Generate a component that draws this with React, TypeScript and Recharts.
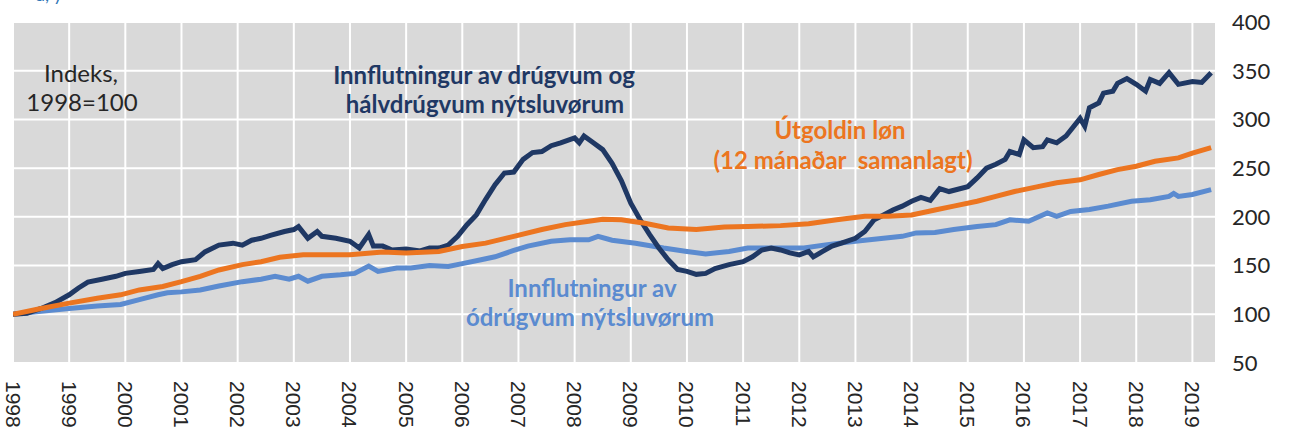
import React from "react";
import { LineChart, Line, XAxis, YAxis, CartesianGrid } from "recharts";

// Monthly dates ("YYYY-MM") and index values (1998 = 100)
const durableDates = [
  "1998-01","1998-04","1998-07","1998-10","1999-01","1999-03","1999-05","1999-08","1999-11",
  "2000-01","2000-04","2000-07","2000-08","2000-09","2000-11","2001-01","2001-04","2001-06","2001-09","2001-12",
  "2002-02","2002-04","2002-06","2002-08","2002-11","2003-01","2003-02","2003-04","2003-06","2003-07","2003-10",
  "2004-01","2004-03","2004-05","2004-06","2004-08","2004-10","2005-01","2005-04","2005-06","2005-08","2005-10","2005-12",
  "2006-02","2006-04","2006-06","2006-08","2006-10","2006-12","2007-02","2007-04","2007-06","2007-08","2007-10",
  "2008-01","2008-02","2008-03","2008-05","2008-07","2008-09","2008-11","2009-01","2009-03","2009-05","2009-07","2009-09","2009-11",
  "2010-01","2010-03","2010-05","2010-07","2010-10","2011-01","2011-03","2011-05","2011-07","2011-09","2011-11",
  "2012-01","2012-03","2012-04","2012-06","2012-08","2012-10","2013-01","2013-03","2013-05","2013-07","2013-09","2013-11",
  "2014-01","2014-03","2014-05","2014-07","2014-09","2015-01","2015-03","2015-05","2015-07","2015-09","2015-10","2015-12",
  "2016-01","2016-03","2016-05","2016-06","2016-08","2016-10","2017-01","2017-02","2017-03","2017-05","2017-06","2017-08","2017-09","2017-11",
  "2018-01","2018-03","2018-04","2018-06","2018-08","2018-10","2019-01","2019-03","2019-05",
];
const durableValues = [
  100,101,106,112,120,127,133,136,139,
  142,144,146,152,147,151,154,156,164,171,173,
  171,176,178,181,185,187,190,178,185,180,178,
  175,168,182,170,170,166,167,165,168,168,171,180,
  192,202,218,233,245,246,259,266,267,273,276,
  281,276,283,276,269,255,237,214,197,182,168,156,146,
  144,141,142,147,151,154,159,166,168,166,163,
  161,164.5,159,164.5,170,173,178,185,197,202,207,211,
  216,220,217,229,226,231,240,250,254,259,267,264,
  279,271,272,279,276,283,301,293,312,317,327,329,337,342,
  336,329,341,337,348,336,339,338,348,
];

const wagesDates = [
  "1998-01","1998-07","1999-01","1999-07","1999-12","2000-04","2000-09","2001-01","2001-05","2001-09",
  "2002-02","2002-06","2002-10","2003-03","2004-01","2004-08","2005-01","2005-08","2006-01","2006-06","2006-12",
  "2007-06","2007-11","2008-04","2008-07","2008-11","2009-04","2009-09","2010-03","2010-09","2011-02","2011-09",
  "2012-03","2012-09","2013-03","2013-08","2014-01","2014-06","2014-10","2015-03","2015-07","2015-11",
  "2016-04","2016-08","2017-01","2017-05","2017-09","2018-01","2018-05","2018-10","2019-01","2019-05",
];
const wagesValues = [
  100,106,111.5,116.5,120,125,128.5,133.5,139,145.5,
  151,154,158.5,161,161,164,163,164.5,169.5,173,180,
  187,192,195.5,197.5,197,193.5,188.5,187,189.5,190,191,
  193,197,200.5,200.5,202,207,211,216,221,226,
  231,235,238,243.5,248.5,252,257,260.5,265.5,271,
];

const nondurableDates = [
  "1998-01","1998-07","1999-01","1999-07","1999-12","2000-04","2000-08","2000-10","2001-01","2001-05","2001-09",
  "2002-02","2002-06","2002-09","2002-12","2003-02","2003-04","2003-07","2003-11","2004-02","2004-05","2004-07","2004-11",
  "2005-02","2005-06","2005-10","2006-01","2006-05","2006-08","2006-12","2007-03","2007-08","2007-12","2008-04","2008-06","2008-09",
  "2009-02","2009-08","2010-01","2010-05","2010-10","2011-02","2011-08","2012-02","2012-07","2013-01","2013-07","2013-11",
  "2014-02","2014-06","2014-10","2015-03","2015-07","2015-10","2016-02","2016-06","2016-08","2016-11",
  "2017-03","2017-07","2017-12","2018-04","2018-08","2018-09","2018-10","2019-01","2019-05",
];
const nondurableValues = [
  100,103,106,108.5,110,115,120,122,123,125,129,
  133.5,136,139,136,139,134,139,140.5,142,149.5,144,147.5,
  147.5,150,149,152,156,159,165.5,170,175,176.5,176.5,180,176,
  173,168,164.5,162,164.5,168,168,168,171.5,175,178,180,
  183.5,184,187,190,192,197,195.5,204,200.5,205.5,
  207.5,211,216,217.5,221,224,221,223,228,
];

const yearTicks = [1998,1999,2000,2001,2002,2003,2004,2005,2006,2007,2008,2009,2010,2011,2012,2013,2014,2015,2016,2017,2018,2019];
const valueTicks = [50,100,150,200,250,300,350,400];

const toYear = (s: string) => {
  const [y, m] = s.split("-").map(Number);
  return y + (m - 1) / 12;
};
const build = (dates: string[], values: number[]) =>
  dates.map((d, i) => ({ t: toYear(d), v: values[i] }));

const durable = build(durableDates, durableValues);
const wages = build(wagesDates, wagesValues);
const nondurable = build(nondurableDates, nondurableValues);

const DARK = "#1f3864";
const ORANGE = "#ec7520";
const LIGHT = "#5b8bd0";

const RotTick = (props: any) => {
  const { x, y, payload } = props;
  return (
    <text
      x={x}
      y={y}
      transform={`rotate(90 ${x} ${y})`}
      textAnchor="start"
      dominantBaseline="central"
      fontSize={21}
      fontFamily="'Liberation Sans', Arial, sans-serif"
      fill="#262626"
    >
      {payload.value}
    </text>
  );
};

const annFont = "Lato, 'Open Sans', sans-serif";

export default function App() {
  return (
    <div style={{ position: "absolute", left: 0, top: 0, width: 1289, height: 430, background: "#fff" }}>
      <LineChart width={1289} height={430} margin={{ top: 22, right: 13, bottom: 7, left: 13 }}>
        <CartesianGrid fill="#d9d9d9" fillOpacity={1} stroke="#ffffff" strokeWidth={2} />
        <XAxis
          dataKey="t"
          type="number"
          domain={[1998, 2019.42]}
          ticks={yearTicks}
          interval={0}
          allowDataOverflow
          height={60}
          axisLine={false}
          tickLine={false}
          tickSize={0}
          tickMargin={18}
          tick={<RotTick />}
        />
        <YAxis
          orientation="right"
          domain={[50, 400]}
          ticks={valueTicks}
          interval={0}
          width={60}
          axisLine={false}
          tickLine={false}
          tickSize={0}
          tickMargin={16}
          tick={{ fontSize: 22, fill: "#262626", fontFamily: annFont }}
        />
        <Line data={nondurable} dataKey="v" type="linear" stroke={LIGHT} strokeWidth={5} dot={false} isAnimationActive={false} />
        <Line data={durable} dataKey="v" type="linear" stroke={DARK} strokeWidth={5} dot={false} isAnimationActive={false} />
        <Line data={wages} dataKey="v" type="linear" stroke={ORANGE} strokeWidth={5} dot={false} isAnimationActive={false} />
      </LineChart>
      <svg width={1289} height={430} style={{ position: "absolute", left: 0, top: 0, pointerEvents: "none" }}>
        <text x={36} y={1} fontSize={18} fill="#2e75b6" fontFamily={annFont}>a, y</text>
        <g fontFamily={annFont} textAnchor="middle">
          <g fontSize={24} fill="#262626">
            <text x={81} y={82}>Indeks,</text>
            <text x={82} y={111}>1998=100</text>
          </g>
          <g fontSize={24} fontWeight="bold" fill={DARK}>
            <text x={484} y={84}>Innflutningur av drúgvum og</text>
            <text x={485} y={113}>hálvdrúgvum nýtsluvørum</text>
          </g>
          <g fontSize={24} fontWeight="bold" fill={ORANGE}>
            <text x={840} y={139}>Útgoldin løn</text>
            <text x={843} y={169} style={{ whiteSpace: "pre" }}>{"(12 mánaðar  samanlagt)"}</text>
          </g>
          <g fontSize={24} fontWeight="bold" fill={LIGHT}>
            <text x={592} y={297}>Innflutningur av</text>
            <text x={590} y={326}>ódrúgvum nýtsluvørum</text>
          </g>
        </g>
      </svg>
    </div>
  );
}
